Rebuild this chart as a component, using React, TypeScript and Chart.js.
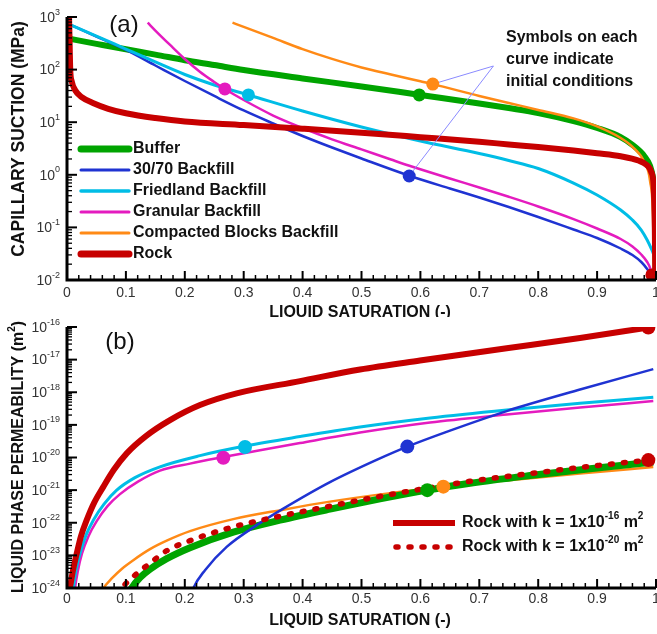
import React, { useEffect, useRef } from 'react';
import { Chart, registerables } from 'chart.js';

Chart.register(...registerables);

type P = [number, number];

const FAM = '"Liberation Sans", Arial, Helvetica, sans-serif';

// ---------- tick labels ----------
const satTicks = [0, 0.1, 0.2, 0.3, 0.4, 0.5, 0.6, 0.7, 0.8, 0.9, 1];
const satTickLabels = ['0', '0.1', '0.2', '0.3', '0.4', '0.5', '0.6', '0.7', '0.8', '0.9', '1'];
const suctionDecades = [-2, -1, 0, 1, 2, 3];
const permDecades = [-24, -23, -22, -21, -20, -19, -18, -17, -16];

// ---------- legend names ----------
const namesA = ['Buffer', '30/70 Backfill', 'Friedland Backfill', 'Granular Backfill', 'Compacted Blocks Backfill', 'Rock'];
const noteLines = ['Symbols on each', 'curve indicate', 'initial conditions'];

// ---------- panel (a): capillary suction (MPa) vs liquid saturation ----------
const bufferA: P[] = [[0, 394], [0.05, 309], [0.1, 243], [0.15, 193], [0.2, 151], [0.25, 122], [0.3, 98], [0.4, 68], [0.5, 47.8], [0.6, 32.9], [0.7, 22.7], [0.75, 18.6], [0.8, 15], [0.86, 10.5], [0.9, 7.76], [0.94, 5.2], [0.96, 3.7], [0.98, 2.28], [0.99, 1.47], [0.995, 0.87], [0.998, 0.33], [0.9995, 0.008]];
const backfill3070A: P[] = [[0, 759], [0.05, 426], [0.1, 236], [0.15, 119.6], [0.2, 60.7], [0.25, 31.5], [0.3, 16.7], [0.35, 9.45], [0.4, 5.47], [0.45, 3.3], [0.5, 2.04], [0.58, 0.97], [0.65, 0.549], [0.7, 0.37], [0.75, 0.244], [0.8, 0.158], [0.86, 0.0912], [0.9, 0.0629], [0.94, 0.0397], [0.96, 0.0299], [0.975, 0.022], [0.985, 0.0162], [0.993, 0.0114], [0.997, 0.008]];
const friedlandA: P[] = [[0, 759], [0.05, 435], [0.1, 246], [0.15, 139.5], [0.2, 80.7], [0.25, 50.9], [0.308, 32.9], [0.4, 16.3], [0.5, 8.1], [0.6, 4.39], [0.7, 2.54], [0.75, 1.87], [0.8, 1.32], [0.86, 0.698], [0.9, 0.413], [0.94, 0.214], [0.96, 0.138], [0.975, 0.0892], [0.985, 0.0576], [0.993, 0.0372], [0.997, 0.0286]];
const granularA: P[] = [[0.137, 780], [0.15, 553], [0.175, 294], [0.2, 159], [0.225, 92], [0.25, 58.1], [0.268, 42.8], [0.3, 26.4], [0.35, 13.4], [0.4, 7.76], [0.45, 4.73], [0.5, 3.04], [0.55, 1.95], [0.58, 1.5], [0.65, 0.85], [0.7, 0.574], [0.75, 0.382], [0.8, 0.25], [0.86, 0.144], [0.9, 0.0953], [0.94, 0.0602], [0.96, 0.0434], [0.975, 0.0305], [0.985, 0.022], [0.99, 0.0169], [0.995, 0.0099], [0.997, 0.008]];
const compactedA: P[] = [[0.281, 780], [0.3, 650], [0.35, 400], [0.4, 245], [0.45, 160], [0.5, 110], [0.55, 80.7], [0.6, 60], [0.621, 53], [0.7, 31.5], [0.75, 23.2], [0.8, 17.1], [0.86, 11.8], [0.9, 8.3], [0.94, 5.0], [0.96, 3.4], [0.98, 1.75], [0.99, 0.75], [0.995, 0.15], [0.997, 0.008]];
const rockA: P[] = [[0.0035, 1000], [0.0045, 300], [0.0055, 100], [0.008, 60], [0.0136, 41], [0.025, 30], [0.045, 23], [0.07, 18], [0.1, 14.8], [0.15, 12], [0.2, 10.3], [0.3, 8.85], [0.4, 7.52], [0.5, 6.32], [0.6, 5.19], [0.7, 4.24], [0.75, 3.78], [0.8, 3.38], [0.86, 2.9], [0.9, 2.57], [0.94, 2.25], [0.97, 1.87], [0.984, 1.54], [0.992, 1.13], [0.996, 0.61], [0.998, 0.1], [0.999, 0.008]];
// initial conditions (a): buffer, 30/70, friedland, granular, compacted, rock
const initA: P[] = [[0.598, 33], [0.581, 0.95], [0.308, 33], [0.268, 43], [0.621, 53], [0.993, 0.0125]];
// annotation pointer: orange symbol -> note anchor -> blue symbol
const pointerA: P[] = [[0.621, 53], [0.724, 117], [0.581, 0.95]];

// ---------- panel (b): liquid phase permeability (m2) vs liquid saturation ----------
const rock16B: P[] = [[0.0025, 8e-25], [0.0051, 1.08e-24], [0.0102, 3.5e-24], [0.0165, 1.14e-23], [0.0238, 3.9e-23], [0.0334, 1.2e-22], [0.0458, 4e-22], [0.0616, 1.26e-21], [0.0798, 4.27e-21], [0.1014, 1.34e-20], [0.134, 4.53e-20], [0.1749, 1.4e-19], [0.2258, 4.05e-19], [0.2881, 9.25e-19], [0.3956, 2.2e-18], [0.4975, 5.0e-18], [0.5993, 9.4e-18], [0.7465, 2.22e-17], [0.871, 4.6e-17], [0.987, 9.6e-17]];
const rock20B: P[] = [[0.0866, 6e-25], [0.0929, 9.66e-25], [0.1126, 2.22e-24], [0.1409, 5.77e-24], [0.1693, 1.39e-23], [0.2088, 2.82e-23], [0.2823, 7.48e-23], [0.3616, 1.59e-22], [0.4465, 3.23e-22], [0.5314, 6.41e-22], [0.6117, 1.15e-21], [0.6842, 1.86e-21], [0.7861, 3.21e-21], [0.888, 5.33e-21], [0.987, 8.32e-21]];
const bufferB: P[] = [[0.1036, 6e-25], [0.1098, 9.86e-25], [0.1239, 2.07e-24], [0.1409, 3.77e-24], [0.1693, 7.92e-24], [0.2088, 1.72e-23], [0.2823, 5.15e-23], [0.3616, 1.2e-22], [0.4465, 2.61e-22], [0.5314, 5.37e-22], [0.6117, 1.0e-21], [0.6842, 1.62e-21], [0.7861, 2.79e-21], [0.888, 4.53e-21], [0.9954, 7.23e-21]];
const backfill3070B: P[] = [[0.209, 5e-25], [0.2144, 9.86e-25], [0.2343, 3.52e-24], [0.2711, 1.82e-23], [0.3221, 8.44e-23], [0.3672, 2.71e-22], [0.4465, 1.76e-21], [0.5285, 8.93e-21], [0.5778, 2.16e-20], [0.6503, 6.68e-20], [0.7465, 2.65e-19], [0.871, 1.21e-18], [0.9954, 5.1e-18]];
const friedlandB: P[] = [[0.0095, 6e-25], [0.0107, 9.86e-25], [0.0153, 3.52e-24], [0.0221, 1.14e-23], [0.0323, 4.17e-23], [0.0447, 1.2e-22], [0.0628, 3.72e-22], [0.0844, 1.0e-21], [0.1154, 2.42e-21], [0.1579, 5.19e-21], [0.2258, 1.14e-20], [0.3022, 2.24e-20], [0.3956, 4.38e-20], [0.4975, 8.57e-20], [0.6163, 1.62e-19], [0.7465, 2.85e-19], [0.871, 4.57e-19], [0.9954, 6.98e-19]];
const granularB: P[] = [[0.0124, 6e-25], [0.0136, 9.86e-25], [0.0187, 3.52e-24], [0.0255, 1.14e-23], [0.0365, 3.88e-23], [0.0504, 1.12e-22], [0.0688, 3.23e-22], [0.09, 7.53e-22], [0.1205, 1.82e-21], [0.1579, 3.96e-21], [0.2088, 6.5e-21], [0.2654, 1.03e-20], [0.3277, 1.66e-20], [0.3956, 2.77e-20], [0.4975, 5.81e-20], [0.6163, 1.18e-19], [0.7465, 2.07e-19], [0.871, 3.4e-19], [0.9954, 5.37e-19]];
const compactedB: P[] = [[0.056, 6e-25], [0.0616, 9.66e-25], [0.0764, 2.0e-24], [0.0934, 3.91e-24], [0.1126, 7.13e-24], [0.1409, 1.55e-23], [0.1693, 2.82e-23], [0.2088, 5.52e-23], [0.2823, 1.29e-22], [0.3672, 2.52e-22], [0.4465, 4.44e-22], [0.5484, 8.09e-22], [0.6389, 1.28e-21], [0.7357, 1.89e-21], [0.871, 3.21e-21], [0.9954, 5.08e-21]];
// initial conditions (b): buffer, 30/70, friedland, granular, compacted, rock k16, rock k20
const initB: P[] = [[0.6117, 1.0e-21], [0.5778, 2.16e-20], [0.3022, 2.1e-20], [0.2654, 9.8e-21], [0.6389, 1.28e-21], [0.987, 9.6e-17], [0.987, 8.32e-21]];

// ---------- styles ----------
const GREEN = '#00a400';
const BLUE = '#1f33d2';
const CYAN = '#00bde6';
const MAGENTA = '#e41bbf';
const ORANGE = '#ff8a16';
const RED = '#c70000';
const POINTER = '#8a8aff';
const colorsA = [GREEN, BLUE, CYAN, MAGENTA, ORANGE, RED];
const widthsA = [6, 2.5, 3, 2.5, 2.5, 6];

const toXY = (arr: P[]) => arr.map(([x, y]) => ({ x, y }));

type Part = { t: string; sup?: boolean };

function drawRich(ctx: CanvasRenderingContext2D, parts: Part[], x: number, y: number, align: 'left' | 'center' | 'right', size: number, weight: string, color: string) {
  const main = `${weight} ${size}px ${FAM}`;
  const sup = `${weight} ${Math.round(size * 0.62)}px ${FAM}`;
  const widths: number[] = [];
  let w = 0;
  for (const p of parts) {
    ctx.font = p.sup ? sup : main;
    const m = ctx.measureText(p.t).width;
    widths.push(m);
    w += m;
  }
  let cx = align === 'left' ? x : align === 'center' ? x - w / 2 : x - w;
  ctx.textAlign = 'left';
  ctx.textBaseline = 'middle';
  ctx.fillStyle = color;
  parts.forEach((p, i) => {
    ctx.font = p.sup ? sup : main;
    ctx.fillText(p.t, cx, p.sup ? y - size * 0.42 : y);
    cx += widths[i];
  });
}

type PanelCfg = {
  decades: number[];
  yTitle: Part[];
  yTitleSize: number;
  yTitleY: number;
  panelLabel: string;
  panelLabelPos: [number, number];
  tickLabelOffset: number;
  extra: (ctx: CanvasRenderingContext2D, chart: any) => void;
};

function axesPlugin(cfg: PanelCfg) {
  return {
    id: 'customAxes',
    afterDraw(chart: any) {
      const ctx: CanvasRenderingContext2D = chart.ctx;
      const xs = chart.scales.x;
      const ys = chart.scales.y;
      const { left, right, top, bottom } = chart.chartArea;
      ctx.save();
      ctx.strokeStyle = '#000';
      ctx.lineCap = 'butt';
      // x ticks (major every 0.1, minor every 0.02)
      for (let i = 0; i <= 50; i++) {
        const v = i / 50;
        const px = xs.getPixelForValue(v);
        const major = i % 5 === 0;
        ctx.lineWidth = major ? 2 : 1.5;
        ctx.beginPath();
        ctx.moveTo(px, bottom);
        ctx.lineTo(px, bottom - (major ? 9 : 5));
        ctx.stroke();
      }
      // y ticks (major per decade, minor 2..9)
      const decs = cfg.decades;
      for (let i = 0; i < decs.length; i++) {
        const d = decs[i];
        const py = ys.getPixelForValue(Math.pow(10, d));
        ctx.lineWidth = 2;
        ctx.beginPath();
        ctx.moveTo(left, py);
        ctx.lineTo(left + 10, py);
        ctx.stroke();
        if (i < decs.length - 1) {
          for (let k = 2; k <= 9; k++) {
            const pm = ys.getPixelForValue(k * Math.pow(10, d));
            ctx.lineWidth = 1.3;
            ctx.beginPath();
            ctx.moveTo(left, pm);
            ctx.lineTo(left + 5, pm);
            ctx.stroke();
          }
        }
      }
      // axis lines
      ctx.lineWidth = 3;
      ctx.beginPath();
      ctx.moveTo(left, top);
      ctx.lineTo(left, bottom);
      ctx.lineTo(right, bottom);
      ctx.stroke();
      // x tick labels
      ctx.fillStyle = '#333';
      ctx.font = `14px ${FAM}`;
      ctx.textAlign = 'center';
      ctx.textBaseline = 'middle';
      satTicks.forEach((v, i) => {
        ctx.fillText(satTickLabels[i], xs.getPixelForValue(v), bottom + cfg.tickLabelOffset);
      });
      // y tick labels
      decs.forEach((d) => {
        const py = ys.getPixelForValue(Math.pow(10, d));
        drawRich(ctx, [{ t: '10' }, { t: String(d), sup: true }], 60, py + 1, 'right', 14, 'normal', '#333');
      });
      // x title
      drawRich(ctx, [{ t: 'LIQUID SATURATION (-)' }], 360, bottom + 33, 'center', 16, 'bold', '#111');
      // y title
      ctx.save();
      ctx.translate(19, cfg.yTitleY);
      ctx.rotate(-Math.PI / 2);
      drawRich(ctx, cfg.yTitle, 0, 0, 'center', cfg.yTitleSize, 'bold', '#111');
      ctx.restore();
      // panel label
      ctx.fillStyle = '#111';
      ctx.font = `24px ${FAM}`;
      ctx.textAlign = 'center';
      ctx.textBaseline = 'middle';
      ctx.fillText(cfg.panelLabel, cfg.panelLabelPos[0], cfg.panelLabelPos[1]);
      cfg.extra(ctx, chart);
      ctx.restore();
    },
  };
}

const lineDs = (data: P[], color: string, width: number, order: number, dash?: number[]) => ({
  data: toXY(data),
  borderColor: color,
  backgroundColor: color,
  borderWidth: width,
  pointRadius: 0,
  cubicInterpolationMode: 'monotone' as const,
  fill: false,
  order,
  borderDash: dash || [],
  borderCapStyle: dash ? ('round' as const) : ('butt' as const),
});

const dotDs = (pt: P, color: string, r = 6.5) => ({
  data: toXY([pt]),
  showLine: false,
  pointRadius: r,
  pointBackgroundColor: color,
  pointBorderColor: color,
  pointBorderWidth: 0,
  order: 0,
});

const scaleOpts = (type: string, min: number, max: number, fit: (s: any) => void) => ({
  type,
  min,
  max,
  grid: { display: false },
  border: { display: false },
  ticks: { display: false },
  afterFit: fit,
});

function configA(): any {
  const curves = [bufferA, backfill3070A, friedlandA, granularA, compactedA, rockA];
  const orders = [7, 6, 5, 4, 3, 2];
  const datasets: any[] = curves.map((c, i) => lineDs(c, colorsA[i], widthsA[i], orders[i]));
  datasets.push({ ...lineDs(pointerA, POINTER, 1, 1), cubicInterpolationMode: 'default', tension: 0 });
  initA.forEach((p, i) => datasets.push(dotDs(p, colorsA[i])));
  const extra = (ctx: CanvasRenderingContext2D) => {
    namesA.forEach((n, i) => {
      const y = 149 + 21 * i;
      ctx.strokeStyle = colorsA[i];
      ctx.lineWidth = widthsA[i] + (widthsA[i] > 4 ? 1 : 0.5);
      ctx.lineCap = 'round';
      ctx.beginPath();
      ctx.moveTo(81, y);
      ctx.lineTo(129, y);
      ctx.stroke();
      drawRich(ctx, [{ t: n }], 133, y, 'left', 16, 'bold', '#111');
    });
    noteLines.forEach((t, i) => {
      drawRich(ctx, [{ t }], 506, 38 + 22 * i, 'left', 16, 'bold', '#111');
    });
  };
  return {
    type: 'line',
    data: { datasets },
    options: {
      animation: false,
      responsive: false,
      devicePixelRatio: 1,
      layout: { autoPadding: false, padding: { top: 17, right: 1, left: 0, bottom: 0 } },
      plugins: { legend: { display: false }, tooltip: { enabled: false } },
      scales: {
        x: scaleOpts('linear', 0, 1, (s: any) => { s.height = 37; }),
        y: scaleOpts('logarithmic', 1e-2, 1e3, (s: any) => { s.width = 67; }),
      },
    },
    plugins: [axesPlugin({
      decades: suctionDecades,
      yTitle: [{ t: 'CAPILLARY SUCTION (MPa)' }],
      yTitleSize: 17.5,
      yTitleY: 139,
      panelLabel: '(a)',
      panelLabelPos: [124, 25],
      tickLabelOffset: 13,
      extra,
    })],
  };
}

function configB(): any {
  const datasets: any[] = [
    lineDs(rock16B, RED, 6, 1),
    lineDs(rock20B, RED, 5.5, 2, [2, 11]),
    lineDs(backfill3070B, BLUE, 2.5, 3),
    lineDs(friedlandB, CYAN, 3, 4),
    lineDs(granularB, MAGENTA, 2.5, 5),
    lineDs(bufferB, GREEN, 7, 6),
    lineDs(compactedB, ORANGE, 2.5, 7),
  ];
  const dotColors = [GREEN, BLUE, CYAN, MAGENTA, ORANGE, RED, RED];
  initB.forEach((p, i) => datasets.push(dotDs(p, dotColors[i], 7)));
  const extra = (ctx: CanvasRenderingContext2D) => {
    const entries: { y: number; exp: string; dash: number[]; w: number }[] = [
      { y: 206, exp: '-16', dash: [], w: 6 },
      { y: 230, exp: '-20', dash: [2, 11], w: 5.5 },
    ];
    entries.forEach((e) => {
      ctx.strokeStyle = RED;
      ctx.lineWidth = e.w;
      ctx.lineCap = e.dash.length ? 'round' : 'butt';
      ctx.setLineDash(e.dash);
      ctx.beginPath();
      ctx.moveTo(e.dash.length ? 396 : 393, e.y);
      ctx.lineTo(455, e.y);
      ctx.stroke();
      ctx.setLineDash([]);
      drawRich(ctx, [{ t: 'Rock with k = 1x10' }, { t: e.exp, sup: true }, { t: ' m' }, { t: '2', sup: true }], 462, e.y, 'left', 16, 'bold', '#111');
    });
  };
  return {
    type: 'line',
    data: { datasets },
    options: {
      animation: false,
      responsive: false,
      devicePixelRatio: 1,
      layout: { autoPadding: false, padding: { top: 10, right: 1, left: 0, bottom: 0 } },
      plugins: { legend: { display: false }, tooltip: { enabled: false } },
      scales: {
        x: scaleOpts('linear', 0, 1, (s: any) => { s.height = 46; }),
        y: scaleOpts('logarithmic', 1e-24, 1e-16, (s: any) => { s.width = 67; }),
      },
    },
    plugins: [axesPlugin({
      decades: permDecades,
      yTitle: [{ t: 'LIQUID PHASE PERMEABILITY (m' }, { t: '2', sup: true }, { t: ')' }],
      yTitleSize: 16,
      yTitleY: 140,
      panelLabel: '(b)',
      panelLabelPos: [120, 25],
      tickLabelOffset: 11,
      extra,
    })],
  };
}

export default function App() {
  const refA = useRef<HTMLCanvasElement>(null);
  const refB = useRef<HTMLCanvasElement>(null);
  useEffect(() => {
    const a = new Chart(refA.current as HTMLCanvasElement, configA());
    const b = new Chart(refB.current as HTMLCanvasElement, configB());
    return () => {
      a.destroy();
      b.destroy();
    };
  }, []);
  return (
    <div style={{ position: 'absolute', left: 0, top: 0, width: 657, height: 634, background: '#fff' }}>
      <canvas ref={refA} width={657} height={317} style={{ display: 'block', width: 657, height: 317 }} />
      <canvas ref={refB} width={657} height={317} style={{ display: 'block', width: 657, height: 317 }} />
    </div>
  );
}
